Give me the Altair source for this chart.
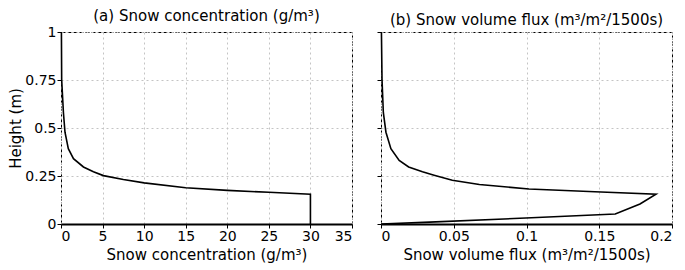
import altair as alt
import pandas as pd

# Panel (a): snow concentration (g/m3) vs height (m)
conc_x = [0.05, 0.08, 0.29, 0.48, 0.88, 1.5, 2.7, 3.9, 5.1, 7.5, 10, 15, 20, 25, 30, 30]
conc_h = [1.0, 0.753, 0.581, 0.478, 0.392, 0.34, 0.297, 0.272, 0.252, 0.232, 0.214, 0.189, 0.175, 0.165, 0.155, 0.0]

# Panel (b): snow volume flux (m3/m2/1500s) vs height (m)
flux_x = [0.0, 0.0334, 0.0995, 0.161, 0.178, 0.189, 0.147, 0.1017, 0.0676, 0.049,
          0.0365, 0.0285, 0.019, 0.0125, 0.0068, 0.0034, 0.0016, 0.0007, 0.0003]
flux_h = [0.0, 0.01, 0.031, 0.052, 0.104, 0.155, 0.168, 0.182, 0.206, 0.228,
          0.254, 0.272, 0.297, 0.331, 0.392, 0.478, 0.581, 0.753, 1.0]

y_ticks = [0, 0.25, 0.5, 0.75, 1]
xa_ticks = [0, 5, 10, 15, 20, 25, 30, 35]
xb_ticks = [0, 0.05, 0.1, 0.15, 0.2]

FONT = "DejaVu Sans"
W, H = 291, 192

df_a = pd.DataFrame({"x": conc_x, "h": conc_h, "i": range(len(conc_x))})
df_b = pd.DataFrame({"x": flux_x, "h": flux_h, "i": range(len(flux_x))})

common_axis = dict(
    grid=True, gridColor="#c4c4c4", gridDash=[2, 3], gridWidth=1,
    tickColor="black", tickSize=4, labelColor="black", labelFont=FONT,
    labelFontSize=14, titleFont=FONT, titleFontSize=15, titleFontWeight="normal",
    titleColor="black", labelExpr="format(datum.value, '~g')",
)

def xaxis(title, ticks):
    return alt.Axis(title=title, values=ticks, domain=True, domainColor="black",
                    domainWidth=2, labelPadding=1, titlePadding=4, **common_axis)

def yaxis(show_labels):
    kw = dict(common_axis)
    if show_labels:
        return alt.Axis(title="Height (m)", values=y_ticks, domain=False,
                        labelPadding=1, titlePadding=1, **kw)
    return alt.Axis(title=None, values=y_ticks, domain=False, labels=False, **kw)

panel_a = alt.Chart(df_a).mark_line(color="black", strokeWidth=1.6).encode(
    x=alt.X("x:Q", scale=alt.Scale(domain=[0, 35], nice=False),
            axis=xaxis("Snow concentration (g/m³)", xa_ticks)),
    y=alt.Y("h:Q", scale=alt.Scale(domain=[0, 1], nice=False), axis=yaxis(True)),
    order="i:O",
).properties(
    width=W, height=H,
    title=alt.TitleParams("(a) Snow concentration (g/m³)", font=FONT, fontSize=15,
                          fontWeight="normal", color="black", offset=1),
)

panel_b = alt.Chart(df_b).mark_line(color="black", strokeWidth=1.6).encode(
    x=alt.X("x:Q", scale=alt.Scale(domain=[0, 0.2], nice=False),
            axis=xaxis("Snow volume flux (m³/m²/1500s)", xb_ticks)),
    y=alt.Y("h:Q", scale=alt.Scale(domain=[0, 1], nice=False), axis=yaxis(False)),
    order="i:O",
).properties(
    width=W, height=H,
    title=alt.TitleParams("(b) Snow volume flux (m³/m²/1500s)", font=FONT, fontSize=15,
                          fontWeight="normal", color="black", offset=1),
)

chart = alt.hconcat(panel_a, panel_b, spacing=23).properties(
    padding={"left": 0, "top": 0, "right": 0, "bottom": 0}
).configure(
    background="white"
).configure_view(
    stroke="black", strokeDash=[4, 2], strokeWidth=1
)

chart.save("out.html", embed_options={"renderer": "svg", "actions": False})
